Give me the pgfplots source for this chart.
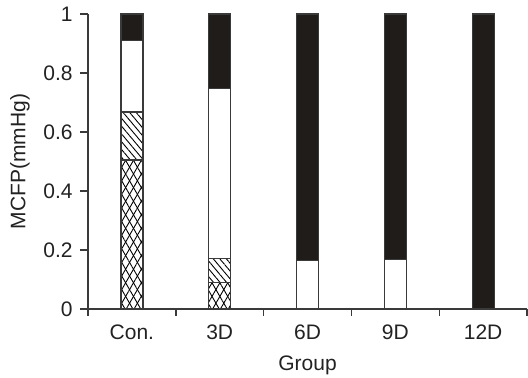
\documentclass[border=0pt]{standalone}
\usepackage{pgfplots}
\pgfplotsset{compat=1.18}
\usepackage{fontspec}
\setmainfont{Liberation Sans}
\usetikzlibrary{patterns.meta}
\definecolor{barblack}{HTML}{201C19}
\definecolor{edge}{HTML}{3A3A3A}
\definecolor{txt}{HTML}{222222}
\begin{document}
\fontsize{10.5}{12.6}\selectfont
\begin{tikzpicture}
\begin{axis}[
  scale only axis,
  width=219.5pt, height=147.5pt,
  ybar stacked,
  bar width=11pt,
  xmin=-0.5, xmax=4.5,
  ymin=0, ymax=1,
  axis lines*=left,
  axis line style={edge, line width=0.7pt},
  xtick={0,1,2,3,4},
  xticklabels={Con.,3D,6D,9D,12D},
  major x tick style={draw=none},
  minor xtick={-0.5,0.5,1.5,2.5,3.5,4.5},
  minor x tick style={edge, line width=0.7pt},
  minor tick length=3.5pt,
  ytick={0,0.2,0.4,0.6,0.8,1},
  yticklabels={0,0.2,0.4,0.6,0.8,1},
  major y tick style={edge, line width=0.7pt},
  major tick length=4pt,
  tick align=outside,
  tick label style={text=txt},
  label style={text=txt},
  xlabel={Group},
  ylabel={MCFP(mmHg)},
  x label style={at={(axis description cs:0.5,-0.19)}, anchor=center},
  y label style={at={(axis description cs:-0.155,0.5)}, anchor=center},
  clip=false,
]
\coordinate (O) at (rel axis cs:0,0);
% crosshatch (bottom)
\addplot[draw=edge, line width=0.6pt, fill=white,
  postaction={pattern={Lines[angle=60,distance=3.4pt,line width=0.45pt]}},
  postaction={pattern={Lines[angle=-60,distance=3.4pt,line width=0.45pt]}}]
  coordinates {(0,0.505) (1,0.089) (2,0) (3,0) (4,0)};
% diagonal lines
\addplot[draw=edge, line width=0.6pt, fill=white,
  postaction={pattern={Lines[angle=-50,distance=2.5pt,line width=0.45pt]}}]
  coordinates {(0,0.163) (1,0.083) (2,0) (3,0) (4,0)};
% white
\addplot[draw=edge, line width=0.6pt, fill=white]
  coordinates {(0,0.243) (1,0.575) (2,0.164) (3,0.167) (4,0)};
% black
\addplot[draw=edge, line width=0.6pt, fill=barblack]
  coordinates {(0,0.089) (1,0.253) (2,0.836) (3,0.833) (4,1)};
\end{axis}
\pgfresetboundingbox
\useasboundingbox ([shift={(-44pt,-34.5pt)}]O) rectangle ([shift={(220pt,154.5pt)}]O);
\end{tikzpicture}
\end{document}
